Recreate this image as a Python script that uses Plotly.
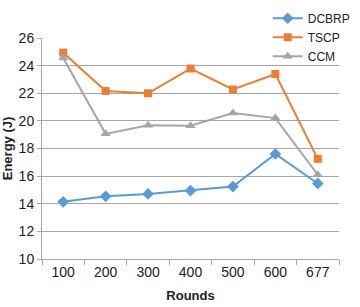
import plotly.graph_objects as go

rounds = ["100", "200", "300", "400", "500", "600", "677"]
dcbrp = [14.14, 14.54, 14.71, 14.95, 15.24, 17.6, 15.47]
tscp = [24.94, 22.17, 22.0, 23.79, 22.27, 23.39, 17.25]
ccm = [24.56, 19.06, 19.68, 19.65, 20.57, 20.2, 16.1]

font = "Liberation Sans"
fig = go.Figure()
fig.add_trace(go.Scatter(x=rounds, y=dcbrp, name="DCBRP", mode="lines+markers",
                         line=dict(color="#5B9BD5", width=2),
                         marker=dict(symbol="diamond", size=9, color="#5B9BD5")))
fig.add_trace(go.Scatter(x=rounds, y=tscp, name="TSCP", mode="lines+markers",
                         line=dict(color="#ED7D31", width=2),
                         marker=dict(symbol="square", size=8, color="#ED7D31")))
fig.add_trace(go.Scatter(x=rounds, y=ccm, name="CCM", mode="lines+markers",
                         line=dict(color="#A5A5A5", width=2),
                         marker=dict(symbol="triangle-up", size=9, color="#A5A5A5")))

fig.update_layout(
    width=360, height=307,
    margin=dict(l=42, r=4, t=36, b=48),
    paper_bgcolor="white", plot_bgcolor="white",
    font=dict(family=font, size=14, color="#222"),
    legend=dict(x=0.76, y=1.155, xanchor="left", yanchor="top",
                bgcolor="rgba(0,0,0,0)", font=dict(size=12),
                tracegroupgap=0, itemwidth=30),
    xaxis=dict(type="category", range=[-0.5, 6.5], tickson="boundaries",
               ticks="outside", ticklen=5, tickcolor="#A6A6A6",
               showline=True, linecolor="#A6A6A6", linewidth=1,
               showgrid=False, tickfont=dict(size=14),
               title=dict(text="<b>Rounds</b>", font=dict(size=13), standoff=12)),
    yaxis=dict(range=[10, 26], dtick=2, showgrid=True, gridcolor="#A6A6A6",
               gridwidth=1, showline=True, linecolor="#A6A6A6", linewidth=1,
               ticks="outside", ticklen=4, tickcolor="#A6A6A6", zeroline=False,
               tickfont=dict(size=14),
               title=dict(text="<b>Energy (J)</b>", font=dict(size=13), standoff=4)),
)

fig.write_html("out.html", config={"displayModeBar": False},
               post_script="document.body.style.margin='0px';")
